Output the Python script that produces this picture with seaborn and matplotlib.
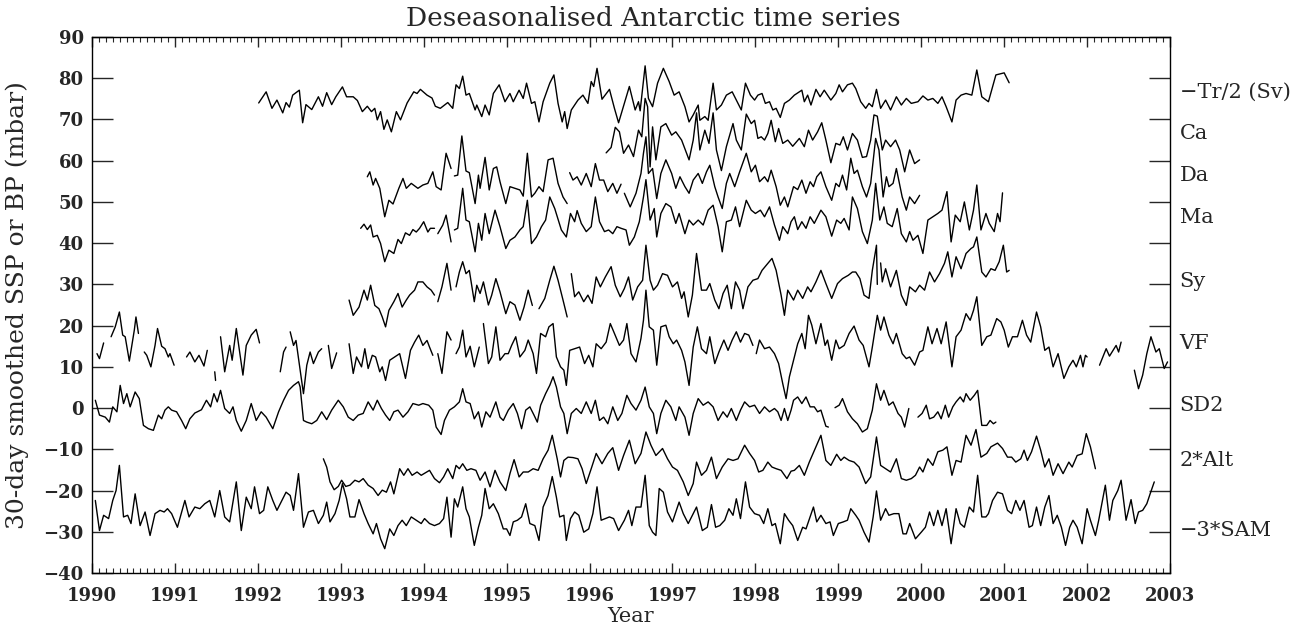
"""
Deseasonalised Antarctic time series
====================================
Stacked 30-day smoothed bottom/sea-surface pressure records, offset
vertically, with the transport series (-Tr/2) on top and -3*SAM at the bottom.
Values read off the reference figure; None marks a gap in a record.
"""

import numpy as np
import pandas as pd
import matplotlib
matplotlib.use("Agg")
import matplotlib.pyplot as plt
import matplotlib.ticker as mticker
import seaborn as sns

# ============================================================================
# DATA  (year, value) pairs, None = gap
# ============================================================================

TR = [
    (1992.01, 74.0), (1992.10, 76.7), (1992.17, 72.7), (1992.23, 74.7), (1992.30, 71.6),
    (1992.34, 74.1), (1992.38, 73.0), (1992.42, 75.9), (1992.50, 77.1), (1992.54, 69.2),
    (1992.58, 73.6), (1992.65, 72.4), (1992.73, 75.5), (1992.78, 73.2), (1992.83, 76.5),
    (1992.89, 73.6), (1992.94, 75.5), (1993.02, 77.9), (1993.07, 75.5), (1993.15, 75.5),
    (1993.20, 74.6), (1993.26, 71.9), (1993.32, 73.2), (1993.37, 71.9), (1993.41, 72.7),
    (1993.44, 69.9), (1993.48, 71.9), (1993.52, 67.6), (1993.56, 69.9), (1993.61, 67.0),
    (1993.67, 71.9), (1993.72, 69.9), (1993.80, 74.0), (1993.88, 76.7), (1993.92, 76.3),
    (1993.96, 77.3), (1994.04, 75.9), (1994.10, 75.2), (1994.14, 73.2), (1994.20, 72.7),
    (1994.29, 74.1), (1994.35, 72.7), (1994.39, 78.4), (1994.43, 77.5), (1994.47, 80.5),
    (1994.51, 75.9), (1994.55, 76.3), (1994.62, 72.3), (1994.64, 73.5), (1994.70, 70.7),
    (1994.74, 73.5), (1994.79, 71.1), (1994.84, 76.3), (1994.91, 78.4), (1994.98, 74.3),
    (1995.04, 76.3), (1995.08, 74.3), (1995.15, 77.1), (1995.20, 75.1), (1995.24, 78.8),
    (1995.30, 73.9), (1995.34, 74.3), (1995.39, 69.4), (1995.44, 74.3), (1995.52, 78.8),
    (1995.57, 80.8), (1995.62, 73.9), (1995.67, 69.4), (1995.70, 71.9), (1995.73, 67.8),
    (1995.78, 72.3), (1995.86, 74.7), (1995.92, 75.9), (1995.98, 73.9), (1996.02, 79.2),
    (1996.05, 78.0), (1996.09, 82.4), (1996.15, 74.9), (1996.24, 77.3), (1996.30, 72.7),
    (1996.35, 69.2), (1996.42, 73.9), (1996.48, 78.0), (1996.55, 72.3), (1996.59, 74.3),
    (1996.61, 72.1), (1996.67, 83.0), (1996.71, 75.1), (1996.76, 73.1), (1996.82, 78.8),
    (1996.89, 82.4), (1996.96, 79.2), (1997.02, 75.9), (1997.08, 76.7), (1997.15, 73.1),
    (1997.20, 69.4), (1997.25, 71.1), (1997.31, 73.5), (1997.33, 69.8), (1997.39, 70.7),
    (1997.43, 69.8), (1997.49, 78.8), (1997.53, 72.3), (1997.59, 73.5), (1997.65, 75.9),
    (1997.72, 76.7), (1997.77, 74.7), (1997.83, 72.3), (1997.88, 78.8), (1997.94, 75.9),
    (1997.99, 74.7), (1998.03, 75.9), (1998.08, 76.3), (1998.12, 73.9), (1998.17, 74.3),
    (1998.21, 72.3), (1998.25, 72.7), (1998.30, 70.5), (1998.35, 73.9), (1998.41, 74.7),
    (1998.47, 75.9), (1998.53, 76.7), (1998.56, 77.1), (1998.59, 74.3), (1998.63, 75.9),
    (1998.67, 73.5), (1998.73, 77.3), (1998.78, 75.5), (1998.83, 77.1), (1998.91, 74.7),
    (1998.97, 76.3), (1999.01, 78.4), (1999.05, 76.7), (1999.11, 78.4), (1999.17, 78.8),
    (1999.21, 77.5), (1999.27, 74.3), (1999.33, 72.7), (1999.37, 73.9), (1999.41, 73.1),
    (1999.46, 77.3), (1999.51, 72.7), (1999.57, 74.7), (1999.63, 72.3), (1999.70, 75.5),
    (1999.76, 73.5), (1999.82, 75.1), (1999.88, 73.9), (1999.96, 74.3), (2000.02, 75.7),
    (2000.08, 74.7), (2000.14, 75.1), (2000.20, 73.9), (2000.25, 75.5), (2000.30, 73.1),
    (2000.37, 69.4), (2000.42, 74.7), (2000.48, 75.9), (2000.54, 76.3), (2000.61, 75.9),
    (2000.67, 82.0), (2000.73, 75.5), (2000.81, 74.3), (2000.90, 80.8), (2001.00, 81.3),
    (2001.06, 78.9),
]

CA = [
    (1996.20, 61.9), (1996.26, 63.2), (1996.31, 68.1), (1996.36, 67.0), (1996.41, 61.8),
    (1996.47, 63.8), (1996.53, 61.0), (1996.59, 67.4), (1996.63, 65.8), (1996.67, 75.1),
    (1996.70, 73.1), (1996.73, 58.5), (1996.76, 68.2), (1996.80, 60.2), (1996.86, 68.2),
    (1996.92, 69.0), (1996.99, 66.2), (1997.04, 67.0), (1997.11, 65.0), (1997.20, 60.2),
    (1997.25, 65.0), (1997.29, 71.6), (1997.33, 62.6), (1997.39, 67.4), (1997.44, 64.2),
    (1997.49, 71.6), (1997.53, 62.6), (1997.59, 57.6), (1997.65, 63.4), (1997.73, 69.0),
    (1997.77, 65.0), (1997.83, 62.6), (1997.89, 71.3), (1997.95, 69.0), (1997.99, 69.8),
    (1998.03, 65.4), (1998.07, 65.8), (1998.11, 65.0), (1998.15, 66.6), (1998.19, 69.8),
    (1998.24, 64.6), (1998.28, 67.8), (1998.33, 64.2), (1998.39, 65.0), (1998.45, 63.5),
    (1998.53, 65.4), (1998.59, 63.4), (1998.64, 67.4), (1998.69, 65.0), (1998.75, 67.0),
    (1998.80, 69.2), (1998.85, 65.0), (1998.91, 59.5), (1998.97, 64.2), (1999.02, 63.8),
    (1999.06, 65.8), (1999.11, 62.6), (1999.17, 66.6), (1999.23, 65.0), (1999.29, 60.8),
    (1999.34, 61.0), (1999.39, 65.0), (1999.43, 71.1), (1999.47, 70.8), (1999.53, 62.6),
    (1999.57, 65.0), (1999.63, 63.4), (1999.69, 65.0), (1999.74, 62.6), (1999.80, 57.3),
    (1999.86, 62.6), (1999.92, 59.3), (1999.98, 60.2),
]

DA = [
    (1993.32, 56.1), (1993.35, 57.3), (1993.39, 54.1), (1993.42, 55.7), (1993.47, 53.3),
    (1993.53, 46.4), (1993.58, 50.4), (1993.63, 49.5), (1993.70, 53.3), (1993.75, 55.7),
    (1993.79, 53.3), (1993.85, 54.5), (1993.93, 53.3), (1993.99, 54.1), (1994.05, 54.5),
    (1994.11, 57.3), (1994.15, 53.7), (1994.21, 52.9), (1994.27, 61.8), (1994.33, 58.1),
    None,
    (1994.37, 56.3), (1994.41, 56.5), (1994.46, 66.0), (1994.51, 57.5), (1994.55, 57.1),
    (1994.62, 49.6), (1994.66, 56.5), (1994.68, 53.3), (1994.74, 60.8), (1994.79, 52.9),
    (1994.84, 58.1), (1994.88, 58.5), (1994.92, 54.9), (1994.99, 49.6), (1995.04, 53.7),
    (1995.10, 53.3), (1995.16, 52.9), (1995.20, 51.4), (1995.25, 61.8), (1995.30, 51.2),
    (1995.34, 52.1), (1995.39, 53.7), (1995.44, 52.5), (1995.50, 60.2), (1995.56, 60.6),
    (1995.62, 54.5), (1995.68, 51.2), (1995.73, 49.6),
    None,
    (1995.76, 57.1), (1995.80, 55.3), (1995.85, 56.1), (1995.90, 54.1), (1995.96, 56.9),
    (1996.02, 53.7), (1996.07, 59.3), (1996.12, 55.3), (1996.17, 55.3), (1996.22, 52.5),
    (1996.28, 54.5), (1996.33, 52.1), (1996.38, 54.3),
    None,
    (1996.42, 52.1), (1996.49, 48.8), (1996.56, 52.1), (1996.62, 56.9), (1996.65, 61.8),
    (1996.68, 65.8), (1996.71, 56.9), (1996.76, 58.1), (1996.81, 50.8), (1996.86, 56.9),
    (1996.92, 60.2), (1996.99, 56.9), (1997.04, 53.3), (1997.09, 56.1), (1997.15, 53.7),
    (1997.20, 52.1), (1997.25, 55.3), (1997.31, 56.9), (1997.36, 54.5), (1997.41, 57.3),
    (1997.45, 58.9), (1997.51, 53.7), (1997.55, 51.2), (1997.60, 48.4), (1997.65, 54.5),
    (1997.69, 56.9), (1997.75, 53.7), (1997.81, 57.3), (1997.89, 61.8), (1997.95, 57.3),
    (1998.00, 58.9), (1998.05, 54.9), (1998.11, 56.1), (1998.15, 54.9), (1998.19, 57.7),
    (1998.25, 53.7), (1998.30, 49.2), (1998.35, 51.2), (1998.39, 48.8), (1998.46, 53.7),
    (1998.51, 53.0), (1998.56, 55.3), (1998.61, 52.1), (1998.66, 54.9), (1998.70, 53.7),
    (1998.74, 56.1), (1998.79, 57.3), (1998.85, 53.7), (1998.92, 50.4), (1998.97, 54.5),
    (1999.01, 53.7), (1999.05, 56.5), (1999.10, 52.9), (1999.15, 60.6), (1999.19, 56.9),
    (1999.23, 57.7), (1999.29, 53.7), (1999.34, 51.2), (1999.39, 54.5), (1999.45, 65.4),
    (1999.49, 62.6), (1999.54, 51.2), (1999.58, 56.1), (1999.61, 53.7), (1999.66, 54.5),
    (1999.70, 58.1), (1999.77, 51.2), (1999.82, 48.0), (1999.86, 51.2), (1999.92, 49.6),
    (1999.98, 51.6),
]

MA = [
    (1993.24, 43.6), (1993.28, 44.6), (1993.32, 43.3), (1993.36, 44.4), (1993.39, 41.5),
    (1993.44, 41.9), (1993.48, 39.9), (1993.53, 35.5), (1993.58, 38.3), (1993.64, 37.5),
    (1993.69, 40.9), (1993.73, 39.9), (1993.78, 42.5), (1993.83, 41.9), (1993.87, 43.3),
    (1993.91, 42.7), (1993.95, 43.6), (1994.00, 45.2), (1994.05, 42.7), (1994.08, 43.6),
    (1994.13, 43.6),
    None,
    (1994.17, 42.3), (1994.23, 44.4), (1994.27, 46.8), (1994.33, 40.3),
    None,
    (1994.37, 43.2), (1994.41, 43.6), (1994.47, 53.3), (1994.51, 45.6), (1994.55, 45.2),
    (1994.62, 37.9), (1994.66, 44.8), (1994.70, 40.7), (1994.74, 47.2), (1994.79, 42.3),
    (1994.86, 48.0), (1994.92, 44.0), (1994.99, 38.7), (1995.04, 40.7), (1995.10, 41.5),
    (1995.16, 43.2), (1995.20, 44.0), (1995.25, 50.4), (1995.30, 39.9), (1995.36, 41.5),
    (1995.42, 44.0), (1995.47, 45.6), (1995.52, 51.2), (1995.58, 48.4), (1995.66, 43.2),
    (1995.72, 41.5), (1995.77, 47.2), (1995.82, 45.2), (1995.85, 47.9), (1995.90, 44.8),
    (1995.96, 42.8), (1996.02, 44.0), (1996.07, 51.2), (1996.12, 45.2), (1996.18, 42.8),
    (1996.23, 43.2), (1996.28, 42.3), (1996.33, 44.0), (1996.38, 43.6), (1996.44, 43.2),
    (1996.48, 39.5), (1996.54, 41.5), (1996.60, 45.2), (1996.65, 51.2), (1996.68, 55.4),
    (1996.73, 45.6), (1996.78, 48.4), (1996.81, 41.5), (1996.86, 47.2), (1996.92, 49.6),
    (1996.98, 48.8), (1997.04, 44.8), (1997.08, 47.2), (1997.15, 42.3), (1997.20, 45.6),
    (1997.25, 44.4), (1997.31, 45.6), (1997.37, 44.4), (1997.43, 48.0), (1997.49, 49.2),
    (1997.55, 44.0), (1997.60, 37.9), (1997.65, 45.2), (1997.71, 45.6), (1997.76, 48.8),
    (1997.81, 44.0), (1997.89, 50.4), (1997.95, 48.0), (1998.00, 47.2), (1998.06, 48.0),
    (1998.11, 46.4), (1998.17, 48.8), (1998.23, 44.4), (1998.29, 40.7), (1998.33, 44.0),
    (1998.39, 42.3), (1998.43, 45.2), (1998.47, 46.4), (1998.51, 43.3), (1998.56, 45.2),
    (1998.61, 43.6), (1998.66, 46.4), (1998.71, 44.8), (1998.79, 48.0), (1998.85, 46.4),
    (1998.92, 41.7), (1998.98, 45.6), (1999.03, 44.8), (1999.07, 46.0), (1999.13, 43.2),
    (1999.17, 51.2), (1999.23, 48.4), (1999.29, 42.8), (1999.35, 39.9), (1999.41, 45.6),
    (1999.45, 54.5), (1999.50, 45.6), (1999.55, 48.8), (1999.59, 44.8), (1999.65, 44.0),
    (1999.71, 48.4), (1999.76, 42.3), (1999.82, 40.3), (1999.86, 42.8), (1999.90, 40.7),
    (1999.96, 41.9), (2000.02, 37.5), (2000.08, 45.6), (2000.14, 46.4), (2000.20, 47.2),
    (2000.25, 48.0), (2000.31, 52.5), (2000.36, 40.3), (2000.41, 46.8), (2000.47, 45.2),
    (2000.52, 50.0), (2000.58, 43.2), (2000.63, 48.0), (2000.67, 54.1), (2000.72, 43.2),
    (2000.78, 47.2), (2000.82, 44.8), (2000.88, 42.8), (2000.92, 47.2), (2000.95, 45.2),
    (2000.98, 52.2),
]

SY = [
    (1993.10, 26.2), (1993.15, 22.5), (1993.22, 24.5), (1993.28, 28.6), (1993.32, 26.2),
    (1993.36, 29.8), (1993.41, 24.9), (1993.46, 24.1), (1993.50, 22.1), (1993.54, 19.7),
    (1993.58, 23.7), (1993.64, 25.8), (1993.69, 27.8), (1993.74, 24.5), (1993.79, 26.2),
    (1993.83, 27.4), (1993.89, 28.6), (1993.93, 30.6), (1993.99, 30.6), (1994.04, 29.4),
    (1994.09, 28.6), (1994.13, 27.4),
    None,
    (1994.17, 25.8), (1994.22, 29.4), (1994.28, 35.1), (1994.33, 28.6),
    None,
    (1994.39, 29.4), (1994.43, 33.0), (1994.47, 35.5), (1994.51, 32.6), (1994.55, 33.4),
    (1994.61, 25.8), (1994.64, 29.8), (1994.68, 27.8), (1994.72, 30.6), (1994.78, 25.0),
    (1994.82, 27.4), (1994.87, 31.4), (1994.92, 28.2), (1994.99, 22.9), (1995.04, 25.8),
    (1995.10, 25.0), (1995.16, 21.3), (1995.21, 24.5), (1995.26, 28.6), (1995.31, 24.9),
    None,
    (1995.39, 24.1), (1995.46, 26.6), (1995.52, 31.0), (1995.57, 34.4), (1995.62, 31.0),
    (1995.68, 26.2), (1995.73, 22.1),
    None,
    (1995.78, 32.6), (1995.82, 27.0), (1995.87, 28.2), (1995.93, 25.8), (1995.98, 27.4),
    (1996.03, 25.4), (1996.08, 31.8), (1996.13, 29.4), (1996.19, 31.8), (1996.26, 34.3),
    (1996.31, 29.8), (1996.37, 27.0), (1996.42, 29.0), (1996.47, 31.8), (1996.52, 26.2),
    (1996.58, 29.4), (1996.64, 31.0), (1996.68, 39.5), (1996.73, 31.0), (1996.77, 28.6),
    (1996.82, 29.8), (1996.88, 32.6), (1996.94, 32.2), (1997.00, 29.4), (1997.06, 30.6),
    (1997.11, 26.6), (1997.14, 28.2), (1997.19, 22.1), (1997.24, 27.4), (1997.29, 37.5),
    (1997.35, 28.6), (1997.41, 28.6), (1997.45, 30.2), (1997.51, 26.2), (1997.56, 24.1),
    (1997.61, 27.8), (1997.66, 29.8), (1997.71, 24.1), (1997.76, 30.6), (1997.81, 28.6),
    (1997.85, 24.1), (1997.91, 29.4), (1997.97, 31.0), (1998.03, 31.4), (1998.08, 33.4),
    (1998.15, 35.1), (1998.20, 36.3), (1998.25, 33.4), (1998.31, 27.4), (1998.35, 22.5),
    (1998.39, 28.6), (1998.46, 26.2), (1998.51, 28.6), (1998.57, 26.6), (1998.63, 29.4),
    (1998.67, 28.2), (1998.73, 30.6), (1998.79, 33.4), (1998.85, 30.2), (1998.92, 26.6),
    (1998.99, 30.2), (1999.05, 31.4), (1999.12, 32.2), (1999.17, 33.0), (1999.21, 33.0),
    (1999.26, 31.4), (1999.31, 27.4), (1999.37, 26.6), (1999.41, 33.4), (1999.46, 39.5),
    (1999.47, 30.0),
    None,
    (1999.51, 35.2), (1999.53, 30.6), (1999.57, 33.8), (1999.63, 29.4), (1999.70, 33.4),
    (1999.76, 27.4), (1999.82, 24.9), (1999.86, 29.4), (1999.93, 28.2), (1999.98, 29.8),
    (2000.04, 28.6), (2000.10, 33.0), (2000.16, 30.6), (2000.22, 32.6), (2000.28, 35.1),
    (2000.32, 37.9), (2000.37, 31.8), (2000.42, 36.7), (2000.48, 33.8), (2000.54, 37.5),
    (2000.60, 38.7), (2000.63, 39.1), (2000.67, 41.5), (2000.73, 33.0), (2000.78, 31.8),
    (2000.84, 33.8), (2000.89, 33.4), (2000.94, 35.5), (2000.99, 39.5), (2001.03, 33.0),
    (2001.06, 33.4),
]

VF = [
    (1990.06, 13.2), (1990.09, 12.0), (1990.14, 15.8),
    None,
    (1990.23, 17.3), (1990.28, 19.7), (1990.33, 23.3), (1990.37, 17.7), (1990.40, 17.3),
    (1990.45, 11.4), (1990.51, 18.9), (1990.53, 22.1), (1990.56, 18.1),
    None,
    (1990.63, 13.6), (1990.66, 12.8), (1990.71, 10.0), (1990.76, 15.2), (1990.79, 19.3),
    (1990.84, 15.0), (1990.88, 14.4), (1990.92, 12.4), (1990.94, 13.2), (1990.99, 10.4),
    None,
    (1991.14, 12.4), (1991.18, 13.6), (1991.24, 11.2), (1991.29, 12.8), (1991.35, 10.2),
    (1991.39, 14.0),
    None,
    (1991.48, 8.8), (1991.49, 6.7),
    None,
    (1991.55, 17.3), (1991.60, 8.8), (1991.66, 15.2), (1991.69, 11.6), (1991.74, 19.3),
    (1991.82, 8.0), (1991.86, 15.2), (1991.92, 17.7), (1991.98, 19.1), (1992.02, 15.8),
    None,
    (1992.27, 8.8), (1992.31, 13.6), (1992.34, 14.8),
    None,
    (1992.39, 18.5), (1992.43, 15.2), (1992.46, 16.4), (1992.51, 9.2), (1992.55, 3.5),
    (1992.59, 10.4), (1992.63, 13.6), (1992.67, 10.8), (1992.73, 13.6), (1992.77, 14.4),
    None,
    (1992.85, 15.2), (1992.89, 9.6), (1992.95, 13.4),
    None,
    (1993.10, 15.6), (1993.15, 8.4), (1993.19, 12.4), (1993.25, 10.0), (1993.29, 14.4),
    (1993.33, 9.6), (1993.38, 12.8), (1993.42, 12.4), (1993.47, 8.8), (1993.50, 10.0),
    (1993.54, 6.7), (1993.59, 11.6), (1993.65, 12.4), (1993.71, 13.2), (1993.78, 7.2),
    (1993.84, 14.0), (1993.89, 16.0), (1993.94, 17.7), (1993.99, 15.2), (1994.04, 16.4),
    (1994.07, 14.8), (1994.11, 12.8),
    None,
    (1994.17, 13.2), (1994.22, 8.4), (1994.28, 18.5), (1994.33, 16.5),
    None,
    (1994.39, 13.2), (1994.43, 14.8), (1994.47, 18.9), (1994.51, 12.4), (1994.56, 15.0),
    (1994.61, 10.0), (1994.67, 14.8),
    None,
    (1994.72, 20.5), (1994.78, 10.8), (1994.82, 12.4), (1994.87, 19.7), (1994.92, 11.6),
    (1994.98, 13.2), (1995.02, 13.2), (1995.06, 15.2), (1995.11, 17.3), (1995.16, 12.4),
    (1995.22, 14.0), (1995.26, 16.5), (1995.32, 13.2), (1995.36, 8.4), (1995.41, 18.1),
    (1995.47, 17.3), (1995.51, 19.7), (1995.56, 20.5), (1995.60, 12.4), (1995.65, 10.0),
    (1995.69, 9.2), (1995.72, 5.5), (1995.76, 14.0), (1995.82, 14.4), (1995.88, 14.8),
    (1995.94, 10.8), (1995.99, 12.8), (1996.04, 10.0), (1996.08, 15.6), (1996.14, 14.4),
    (1996.20, 16.0), (1996.25, 20.5), (1996.30, 18.1), (1996.36, 15.2), (1996.41, 16.5),
    (1996.45, 20.5), (1996.50, 13.2), (1996.56, 11.2), (1996.62, 16.9), (1996.65, 21.3),
    (1996.68, 28.6), (1996.72, 19.7), (1996.77, 18.9), (1996.81, 10.4), (1996.86, 19.7),
    (1996.92, 20.1), (1996.96, 17.3), (1997.01, 15.6), (1997.05, 16.5), (1997.11, 14.0),
    (1997.15, 11.2), (1997.20, 5.5), (1997.25, 14.8), (1997.30, 19.7), (1997.35, 14.4),
    (1997.41, 13.2), (1997.45, 17.3), (1997.51, 10.8), (1997.56, 13.6), (1997.62, 16.5),
    (1997.67, 14.0), (1997.72, 16.5), (1997.77, 18.5), (1997.82, 16.0), (1997.87, 18.1),
    (1997.92, 17.7), (1997.97, 15.2),
    None,
    (1998.01, 13.2), (1998.05, 16.5), (1998.11, 14.4), (1998.17, 14.8), (1998.23, 13.2),
    (1998.28, 10.8), (1998.33, 5.9), (1998.37, 2.3), (1998.41, 7.6), (1998.45, 10.8),
    (1998.51, 15.6), (1998.56, 18.1), (1998.60, 14.4), (1998.64, 22.5), (1998.68, 20.1),
    (1998.73, 15.6), (1998.79, 20.5), (1998.84, 15.2), (1998.87, 16.5), (1998.92, 11.6),
    (1998.97, 16.5), (1999.01, 14.4), (1999.07, 15.2), (1999.13, 18.1), (1999.19, 19.9),
    (1999.25, 16.5), (1999.30, 15.2), (1999.37, 10.0), (1999.41, 14.8), (1999.47, 22.5),
    (1999.51, 18.9), (1999.55, 22.1), (1999.61, 17.7), (1999.66, 15.6), (1999.70, 18.1),
    (1999.77, 13.2), (1999.82, 12.0), (1999.86, 12.4), (1999.92, 10.4), (1999.98, 13.6),
    (2000.02, 14.0), (2000.08, 19.7), (2000.13, 15.6), (2000.19, 19.3), (2000.24, 15.6),
    (2000.30, 20.9), (2000.37, 10.0), (2000.42, 17.3), (2000.48, 18.9), (2000.54, 22.9),
    (2000.59, 21.3), (2000.63, 23.7), (2000.67, 27.0), (2000.73, 15.2), (2000.79, 17.3),
    (2000.84, 17.7), (2000.91, 21.7), (2000.96, 20.9), (2001.00, 18.9), (2001.05, 14.8),
    (2001.10, 17.3), (2001.16, 17.3), (2001.22, 21.3), (2001.27, 17.7), (2001.32, 16.0),
    (2001.39, 23.3), (2001.44, 19.7), (2001.49, 14.0), (2001.54, 14.8), (2001.59, 10.0),
    (2001.65, 13.2), (2001.72, 7.2), (2001.78, 10.0), (2001.83, 11.6), (2001.87, 10.0),
    (2001.92, 12.8), (2001.95, 10.0), (2001.98, 12.8), (2002.00, 12.4),
    None,
    (2002.15, 10.4), (2002.23, 14.4), (2002.27, 12.6), (2002.35, 15.2), (2002.38, 13.6),
    (2002.41, 16.0),
    None,
    (2002.57, 9.2), (2002.62, 4.7), (2002.67, 8.0), (2002.72, 13.2), (2002.77, 17.3),
    (2002.83, 13.6), (2002.87, 14.4), (2002.93, 9.6), (2002.97, 11.2),
]

SD2 = [
    (1990.04, 1.9), (1990.09, -1.7), (1990.16, -2.2), (1990.21, -3.4), (1990.25, 0.3),
    (1990.30, -0.9), (1990.34, 5.5), (1990.38, 1.1), (1990.42, 3.5), (1990.46, 0.3),
    (1990.52, 3.9), (1990.57, 2.3), (1990.62, -4.2), (1990.68, -5.0), (1990.74, -5.4),
    (1990.80, -1.7), (1990.84, -2.6), (1990.88, -0.5), (1990.92, 0.3), (1990.96, -0.5),
    (1991.02, -0.9), (1991.08, -3.0), (1991.13, -5.0), (1991.18, -2.6), (1991.24, -1.2),
    (1991.32, -0.4), (1991.38, 1.9), (1991.43, 0.3), (1991.47, 3.5), (1991.51, 1.5),
    (1991.55, 4.3), (1991.60, -0.1), (1991.66, -1.3), (1991.70, 0.3), (1991.74, -3.0),
    (1991.80, -5.6), (1991.86, -3.0), (1991.92, 1.1), (1991.98, -3.0), (1992.04, -0.9),
    (1992.10, -2.2), (1992.18, -5.0), (1992.25, -0.9), (1992.31, 1.9), (1992.37, 4.3),
    (1992.43, 5.5), (1992.49, 6.4), (1992.51, 5.1), (1992.55, -3.0), (1992.59, -3.4),
    (1992.65, -3.8), (1992.71, -3.0), (1992.77, -0.9), (1992.83, -2.8), (1992.89, -0.5),
    (1992.97, 1.9), (1993.03, 0.3), (1993.09, -2.2), (1993.15, -3.0), (1993.21, -1.7),
    (1993.27, -1.3), (1993.33, 1.5), (1993.39, -0.5), (1993.44, 1.9), (1993.49, -0.1),
    (1993.54, -1.7), (1993.59, -3.0), (1993.64, -0.9), (1993.69, -0.5), (1993.75, -2.2),
    (1993.81, -0.9), (1993.87, 1.1), (1993.94, 0.7), (1993.99, 1.1), (1994.06, 0.7),
    (1994.11, -0.5), (1994.15, -4.6), (1994.21, -6.4), (1994.25, -3.0), (1994.31, -0.5),
    (1994.37, 0.3), (1994.43, 1.5), (1994.47, 4.7), (1994.51, 1.5), (1994.56, 1.1),
    (1994.61, -2.6), (1994.66, -0.9), (1994.70, -4.6), (1994.75, -0.9), (1994.80, -2.2),
    (1994.87, 1.5), (1994.92, -2.2), (1994.96, -3.0), (1995.02, -0.5), (1995.08, 1.1),
    (1995.13, -1.3), (1995.18, -5.0), (1995.23, -0.5), (1995.28, 0.3), (1995.33, -1.7),
    (1995.37, -3.4), (1995.41, 0.7), (1995.47, 3.5), (1995.52, 5.5), (1995.56, 7.6),
    (1995.60, 5.1), (1995.65, 0.3), (1995.69, -1.3), (1995.73, -6.2), (1995.78, -1.3),
    (1995.84, -0.1), (1995.90, -1.3), (1995.96, 1.5), (1996.02, -1.3), (1996.07, 1.9),
    (1996.12, -3.0), (1996.17, -2.2), (1996.22, -3.8), (1996.28, 0.3), (1996.34, -3.0),
    (1996.39, -1.3), (1996.45, 3.1), (1996.50, 1.1), (1996.56, -0.5), (1996.62, 1.9),
    (1996.67, 5.1), (1996.72, 0.3), (1996.77, -1.3), (1996.81, -6.2), (1996.86, -1.3),
    (1996.92, 1.9), (1996.98, 0.3), (1997.04, -3.0), (1997.08, 0.3), (1997.15, -2.2),
    (1997.20, -6.6), (1997.25, -1.3), (1997.31, 2.3), (1997.37, 0.7), (1997.43, 1.5),
    (1997.49, 0.3), (1997.55, -3.0), (1997.61, -0.9), (1997.66, -2.2), (1997.71, -0.1),
    (1997.77, -3.0), (1997.82, -0.5), (1997.87, 1.5), (1997.93, 0.3), (1997.99, 0.7),
    (1998.05, -1.3), (1998.11, 0.3), (1998.17, -0.9), (1998.23, -0.1), (1998.27, -0.9),
    (1998.31, -3.0), (1998.35, -0.1), (1998.39, -3.0), (1998.43, -0.5), (1998.46, 1.9),
    (1998.51, 2.7), (1998.56, 1.1), (1998.61, 2.7), (1998.66, 0.3), (1998.71, 0.3),
    (1998.75, -0.9), (1998.79, -0.5), (1998.85, -4.4), (1998.88, -4.6),
    None,
    (1998.96, 0.1), (1999.01, 0.7), (1999.05, 2.3), (1999.11, -0.9), (1999.17, -2.6),
    (1999.23, -3.8), (1999.29, -5.8), (1999.35, -5.0), (1999.41, -0.5), (1999.46, 5.9),
    (1999.51, 1.9), (1999.55, 4.3), (1999.61, 0.7), (1999.66, 1.5), (1999.72, -1.3),
    (1999.76, -2.2), (1999.80, -4.6), (1999.85, -0.1),
    None,
    (1999.96, -2.2), (2000.01, -1.3), (2000.06, 0.7), (2000.10, -2.6), (2000.15, -2.2),
    (2000.20, -0.9), (2000.24, -2.6), (2000.29, 0.7), (2000.33, -2.2), (2000.38, 0.3),
    (2000.42, 1.5), (2000.47, 2.7), (2000.51, 1.5), (2000.54, 3.5), (2000.59, 1.9),
    (2000.64, 3.1), (2000.68, 4.3), (2000.73, -4.2), (2000.79, -4.2), (2000.83, -3.0),
    (2000.87, -3.8), (2000.90, -3.4),
]

ALT = [
    (1992.79, -12.3), (1992.83, -14.3), (1992.87, -17.9), (1992.92, -19.8), (1992.97, -19.0),
    (1993.01, -17.5), (1993.06, -19.0), (1993.11, -18.7), (1993.17, -17.5), (1993.22, -17.9),
    (1993.27, -17.1), (1993.33, -18.7), (1993.39, -19.5), (1993.45, -21.2), (1993.50, -19.9),
    (1993.55, -20.4), (1993.60, -17.9), (1993.64, -20.8), (1993.71, -14.7), (1993.76, -16.3),
    (1993.81, -14.7), (1993.86, -16.3), (1993.92, -15.5), (1993.97, -16.3), (1994.02, -15.7),
    (1994.07, -15.1), (1994.13, -17.1), (1994.19, -18.1), (1994.24, -16.7), (1994.29, -14.7),
    (1994.35, -17.1), (1994.39, -13.9), (1994.43, -14.7), (1994.47, -13.5), (1994.52, -15.1),
    (1994.57, -14.7), (1994.63, -15.1), (1994.68, -17.5), (1994.74, -15.5), (1994.80, -19.1),
    (1994.86, -15.1), (1994.92, -17.9), (1994.99, -20.0), (1995.04, -15.9), (1995.09, -12.5),
    (1995.15, -16.7), (1995.20, -15.5), (1995.26, -15.5), (1995.32, -14.7), (1995.38, -15.1),
    (1995.44, -12.3), (1995.50, -10.2), (1995.55, -6.6), (1995.61, -12.3), (1995.65, -16.7),
    (1995.69, -12.7), (1995.74, -11.9), (1995.80, -12.0), (1995.86, -12.3), (1995.91, -14.7),
    (1995.96, -18.3), (1996.02, -14.7), (1996.08, -11.0), (1996.15, -13.5), (1996.22, -11.0),
    (1996.28, -9.6), (1996.35, -15.1), (1996.41, -11.5), (1996.48, -7.8), (1996.55, -13.5),
    (1996.62, -11.0), (1996.68, -5.8), (1996.74, -9.0), (1996.80, -11.5), (1996.88, -9.8),
    (1996.94, -12.3), (1997.00, -14.3), (1997.06, -15.1), (1997.13, -17.9), (1997.19, -21.2),
    (1997.25, -18.3), (1997.29, -13.1), (1997.35, -16.3), (1997.41, -15.1), (1997.47, -11.9),
    (1997.53, -17.1), (1997.60, -14.3), (1997.67, -12.3), (1997.73, -12.7), (1997.79, -12.3),
    (1997.87, -9.0), (1997.93, -11.0), (1997.99, -12.7), (1998.04, -15.5), (1998.09, -15.1),
    (1998.15, -13.1), (1998.20, -14.3), (1998.25, -14.7), (1998.31, -15.1), (1998.38, -17.1),
    (1998.43, -15.3), (1998.47, -15.1), (1998.53, -13.9), (1998.59, -16.3), (1998.65, -13.1),
    (1998.73, -9.4), (1998.79, -6.6), (1998.85, -12.7), (1998.91, -13.9), (1998.98, -11.2),
    (1999.03, -12.7), (1999.07, -11.9), (1999.13, -12.7), (1999.19, -13.1), (1999.25, -14.3),
    (1999.33, -18.3), (1999.39, -16.7), (1999.46, -7.0), (1999.51, -13.9), (1999.57, -14.7),
    (1999.63, -15.5), (1999.70, -12.3), (1999.76, -17.1), (1999.82, -17.5), (1999.88, -17.1),
    (1999.93, -16.3), (1999.98, -14.3), (2000.02, -15.5), (2000.08, -12.3), (2000.14, -13.9),
    (2000.20, -10.6), (2000.26, -10.2), (2000.31, -9.4), (2000.37, -16.3), (2000.42, -12.7),
    (2000.48, -13.1), (2000.54, -6.6), (2000.60, -9.0), (2000.66, -5.2), (2000.72, -11.9),
    (2000.79, -11.0), (2000.84, -9.4), (2000.92, -8.5), (2000.98, -9.8), (2001.04, -11.9),
    (2001.09, -11.9), (2001.14, -13.1), (2001.20, -12.3), (2001.24, -10.2), (2001.28, -12.7),
    (2001.33, -10.6), (2001.39, -6.8), (2001.44, -10.2), (2001.49, -14.3), (2001.54, -12.3),
    (2001.59, -16.3), (2001.65, -13.5), (2001.71, -15.9), (2001.78, -13.1), (2001.82, -14.3),
    (2001.88, -11.5), (2001.94, -11.1), (2001.99, -6.2), (2002.04, -9.4), (2002.10, -14.7),
]

SAM = [
    (1990.04, -22.4), (1990.09, -29.7), (1990.14, -26.0), (1990.20, -26.8), (1990.25, -22.4),
    (1990.29, -20.0), (1990.33, -13.9), (1990.38, -26.4), (1990.43, -26.0), (1990.47, -28.0),
    (1990.52, -20.8), (1990.58, -28.5), (1990.64, -25.2), (1990.70, -30.9), (1990.76, -25.6),
    (1990.82, -24.8), (1990.87, -25.2), (1990.91, -24.4), (1990.96, -25.6), (1991.03, -28.9),
    (1991.12, -22.4), (1991.17, -26.4), (1991.24, -24.0), (1991.30, -24.4), (1991.36, -23.2),
    (1991.42, -22.4), (1991.48, -26.4), (1991.54, -20.0), (1991.60, -26.4), (1991.66, -27.6),
    (1991.74, -17.9), (1991.80, -29.7), (1991.86, -21.6), (1991.92, -24.4), (1991.96, -19.1),
    (1992.02, -25.6), (1992.07, -24.8), (1992.12, -19.1), (1992.18, -22.4), (1992.23, -24.8),
    (1992.29, -22.4), (1992.34, -20.4), (1992.39, -21.2), (1992.43, -24.8), (1992.49, -15.9),
    (1992.55, -28.9), (1992.61, -25.2), (1992.67, -24.8), (1992.73, -28.0), (1992.79, -26.0),
    (1992.83, -22.8), (1992.87, -27.6), (1992.93, -25.6), (1992.98, -22.4), (1993.02, -18.3),
    (1993.07, -22.0), (1993.11, -26.4), (1993.17, -26.4), (1993.22, -22.2), (1993.28, -25.6),
    (1993.33, -28.0), (1993.39, -30.5), (1993.43, -28.0), (1993.48, -31.7), (1993.53, -34.1),
    (1993.59, -29.3), (1993.64, -30.9), (1993.69, -28.5), (1993.74, -27.2), (1993.79, -28.5),
    (1993.85, -26.4), (1993.91, -27.2), (1993.97, -28.0), (1994.01, -26.8), (1994.07, -28.0),
    (1994.13, -28.5), (1994.19, -28.0), (1994.24, -26.8), (1994.28, -21.6), (1994.33, -31.3),
    (1994.37, -22.0), (1994.41, -24.0), (1994.47, -19.1), (1994.51, -24.4), (1994.55, -26.4),
    (1994.61, -33.3), (1994.66, -28.9), (1994.70, -26.0), (1994.74, -19.5), (1994.79, -24.4),
    (1994.84, -23.2), (1994.90, -25.6), (1994.96, -29.3), (1995.00, -29.3), (1995.04, -30.9),
    (1995.08, -27.6), (1995.13, -27.2), (1995.18, -26.4), (1995.23, -23.2), (1995.28, -28.0),
    (1995.34, -28.5), (1995.39, -32.1), (1995.44, -24.0), (1995.50, -21.2), (1995.55, -16.6),
    (1995.60, -21.6), (1995.64, -26.4), (1995.69, -26.0), (1995.72, -32.1), (1995.77, -26.8),
    (1995.82, -25.2), (1995.87, -26.0), (1995.93, -30.1), (1995.99, -29.3), (1996.04, -25.6),
    (1996.09, -19.1), (1996.14, -27.2), (1996.19, -26.8), (1996.24, -26.4), (1996.29, -26.8),
    (1996.35, -29.7), (1996.42, -27.2), (1996.47, -24.8), (1996.51, -28.5), (1996.56, -24.0),
    (1996.62, -24.0), (1996.67, -16.3), (1996.72, -28.5), (1996.76, -30.1), (1996.80, -30.9),
    (1996.84, -19.5), (1996.89, -20.4), (1996.94, -25.2), (1997.00, -27.6), (1997.08, -22.8),
    (1997.13, -25.6), (1997.19, -28.0), (1997.25, -25.6), (1997.29, -24.0), (1997.36, -29.7),
    (1997.42, -28.9), (1997.47, -23.4), (1997.52, -28.9), (1997.57, -28.5), (1997.63, -27.2),
    (1997.68, -24.4), (1997.73, -26.0), (1997.77, -22.0), (1997.82, -26.8), (1997.88, -17.9),
    (1997.93, -24.0), (1997.99, -25.6), (1998.05, -26.0), (1998.10, -28.0), (1998.15, -24.4),
    (1998.20, -28.5), (1998.24, -28.0), (1998.30, -32.9), (1998.35, -25.6), (1998.40, -27.2),
    (1998.45, -28.5), (1998.51, -32.1), (1998.57, -28.9), (1998.61, -29.3), (1998.66, -26.4),
    (1998.70, -24.0), (1998.74, -27.6), (1998.79, -26.0), (1998.85, -28.0), (1998.90, -27.6),
    (1998.94, -30.9), (1999.00, -28.0), (1999.06, -27.6), (1999.11, -27.2), (1999.15, -24.4),
    (1999.21, -26.0), (1999.25, -27.2), (1999.31, -30.1), (1999.37, -32.5), (1999.42, -26.4),
    (1999.46, -20.1), (1999.51, -27.2), (1999.57, -24.4), (1999.61, -26.0), (1999.67, -25.6),
    (1999.73, -25.6), (1999.78, -30.5), (1999.82, -30.5), (1999.86, -28.0), (1999.93, -31.7),
    (2000.00, -30.1), (2000.05, -28.9), (2000.10, -25.2), (2000.15, -28.5), (2000.20, -24.8),
    (2000.25, -28.5), (2000.30, -24.4), (2000.36, -32.9), (2000.42, -24.4), (2000.47, -28.0),
    (2000.52, -28.9), (2000.58, -24.0), (2000.63, -25.2), (2000.68, -16.3), (2000.73, -26.4),
    (2000.78, -26.4), (2000.81, -25.6), (2000.86, -22.4), (2000.92, -20.4), (2000.98, -20.8),
    (2001.04, -24.8), (2001.09, -25.6), (2001.14, -22.4), (2001.19, -24.8), (2001.24, -22.4),
    (2001.30, -28.9), (2001.34, -28.5), (2001.39, -24.0), (2001.44, -28.5), (2001.49, -24.0),
    (2001.54, -21.2), (2001.59, -28.0), (2001.64, -26.0), (2001.69, -28.9), (2001.74, -33.3),
    (2001.79, -28.9), (2001.83, -27.2), (2001.88, -28.9), (2001.94, -32.9), (2002.00, -24.4),
    (2002.04, -27.2), (2002.10, -30.9), (2002.14, -27.2), (2002.22, -18.7), (2002.27, -27.2),
    (2002.31, -22.4), (2002.37, -20.0), (2002.41, -17.5), (2002.47, -27.2), (2002.53, -22.2),
    (2002.58, -28.0), (2002.62, -25.2), (2002.67, -24.8), (2002.72, -23.2), (2002.76, -20.8),
    (2002.81, -17.9),
]

SERIES = {"TR": TR, "CA": CA, "DA": DA, "MA": MA, "SY": SY,
          "VF": VF, "SD2": SD2, "ALT": ALT, "SAM": SAM}

# right-hand series labels and the level they sit at
LABELS = ["\u2212Tr/2 (Sv)", "Ca", "Da", "Ma", "Sy", "VF", "SD2", "2*Alt", "\u22123*SAM"]
LABEL_LEVELS = [76.7, 66.7, 56.3, 46.3, 30.8, 15.7, 0.7, -12.7, -29.7]

YEAR_MIN, YEAR_MAX = 1990, 2003
Y_MIN, Y_MAX = -40, 90


def to_frame(series):
    """Flatten the (year, value) lists into a long table, one unit per unbroken segment."""
    rows = []
    seg = 0
    for name, pts in series.items():
        seg += 1
        for p in pts:
            if p is None:
                seg += 1
                continue
            rows.append({"series": name, "seg": seg, "year": p[0], "value": p[1]})
    return pd.DataFrame(rows)


def main():
    sns.set_style("ticks")
    plt.rcParams["font.family"] = ["DejaVu Serif"]
    plt.rcParams["axes.unicode_minus"] = True

    df = to_frame(SERIES)

    fig = plt.figure(figsize=(13.07, 6.27), dpi=100)
    ax = fig.add_axes([0.0704, 0.0861, 0.8248, 0.8549])

    sns.lineplot(data=df, x="year", y="value", units="seg", estimator=None,
                 sort=False, color="black", linewidth=1.0, legend=False, ax=ax)

    ax.set_xlim(YEAR_MIN, YEAR_MAX)
    ax.set_ylim(Y_MIN, Y_MAX)

    ax.xaxis.set_major_locator(mticker.MultipleLocator(1))
    ax.xaxis.set_minor_locator(mticker.MultipleLocator(1 / 12))
    ax.yaxis.set_major_locator(mticker.MultipleLocator(10))
    ax.xaxis.set_major_formatter(mticker.FormatStrFormatter("%d"))

    ax.tick_params(axis="x", which="major", direction="in", length=7, width=1,
                   top=True, bottom=True, pad=10, labelsize=13)
    ax.tick_params(axis="x", which="minor", direction="in", length=3.5, width=0.8,
                   top=True, bottom=True)
    ax.tick_params(axis="y", which="major", direction="in", length=15, width=1,
                   left=True, right=True, pad=6, labelsize=13)
    for lab in ax.get_xticklabels() + ax.get_yticklabels():
        lab.set_fontweight("bold")

    for side in ["left", "right", "top", "bottom"]:
        ax.spines[side].set_visible(True)
        ax.spines[side].set_linewidth(1.0)
        ax.spines[side].set_color("black")

    ax.set_xlabel("Year", fontsize=15)
    ax.set_ylabel("30-day smoothed SSP or BP (mbar)", fontsize=18)
    ax.xaxis.set_label_coords(0.5, -0.064)
    ax.yaxis.set_label_coords(-0.058, 0.5)

    fig.text(0.5, 0.971, "Deseasonalised Antarctic time series",
             ha="center", va="center", fontsize=19)

    trans = matplotlib.transforms.blended_transform_factory(ax.transAxes, ax.transData)
    for text, level in zip(LABELS, LABEL_LEVELS):
        ax.text(1.009, level, text, transform=trans, ha="left", va="center",
                fontsize=15, clip_on=False)

    fig.savefig("out.png", dpi=100)
    plt.close(fig)


if __name__ == "__main__":
    main()
